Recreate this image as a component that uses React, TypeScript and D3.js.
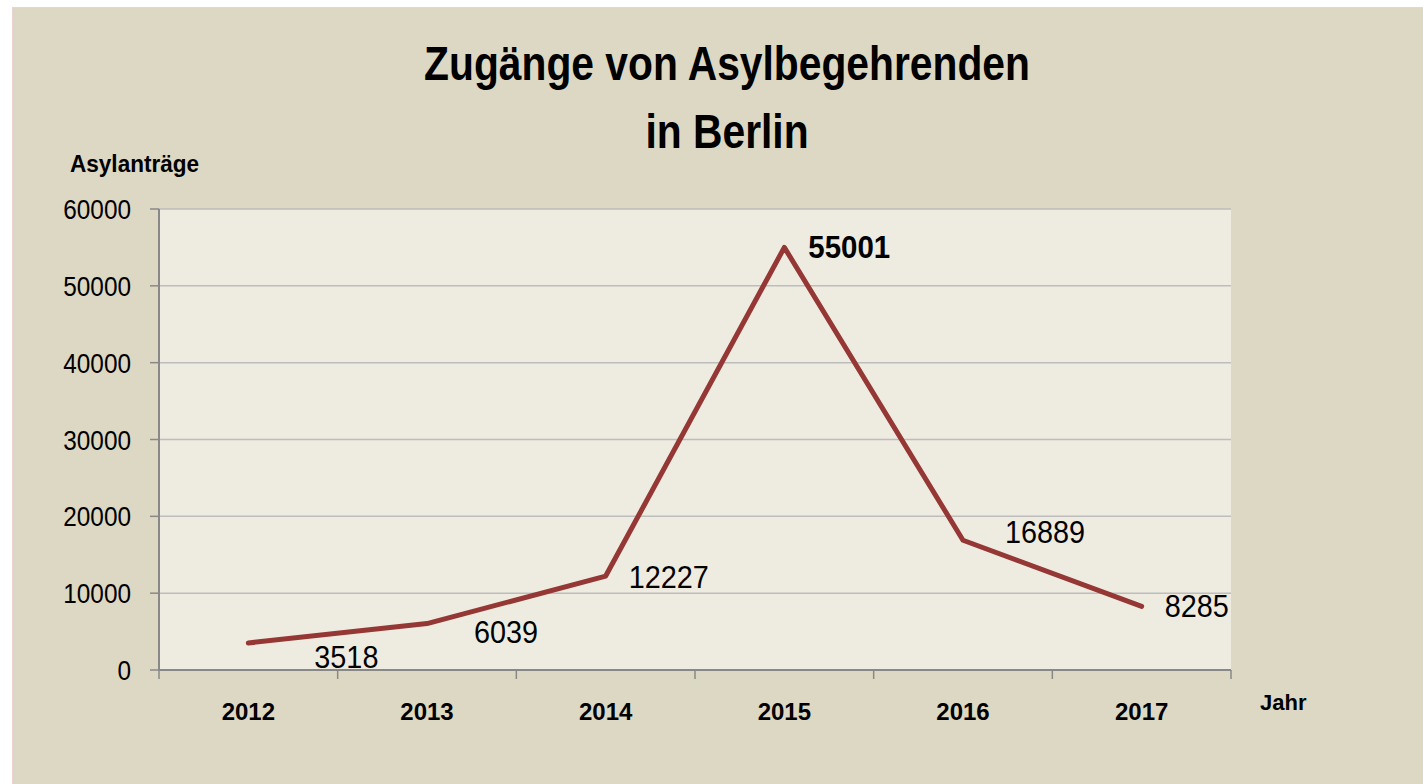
import React from "react";
import * as d3 from "d3";

const years = ["2012", "2013", "2014", "2015", "2016", "2017"];
const values = [3518, 6039, 12227, 55001, 16889, 8285];
const yTicks = [0, 10000, 20000, 30000, 40000, 50000, 60000];
const titleLines = ["Zugänge von Asylbegehrenden", "in Berlin"];
const yAxisTitle = "Asylanträge";
const xAxisTitle = "Jahr";
const boldLabel = [false, false, false, true, false, false];
// label placement offsets (layout only)
const labelDx = [66, 47, 23, 24, 42, 23];
const labelDy = [25, 19, 12, 11, 3, 11];

const W = 1423;
const H = 784;
const FONT = "'Liberation Sans', Arial, sans-serif";

function T(props: {
  x: number;
  y: number;
  sx: number;
  size: number;
  bold?: boolean;
  anchor?: "start" | "middle" | "end";
  children: React.ReactNode;
}) {
  return (
    <g transform={`translate(${props.x},${props.y}) scale(${props.sx},1)`}>
      <text
        x={0}
        y={0}
        fontSize={props.size}
        fontWeight={props.bold ? "bold" : "normal"}
        textAnchor={props.anchor || "start"}
        fill="#000"
      >
        {props.children}
      </text>
    </g>
  );
}

export default function App() {
  const left = 159, right = 1231, top = 209, bottom = 670;
  const x = d3.scaleBand<string>().domain(years).range([left, right]);
  const y = d3.scaleLinear().domain([0, 60000]).range([bottom, top]);
  const cx = (d: string) => (x(d) as number) + x.bandwidth() / 2;
  const line = d3
    .line<number>()
    .x((_, i) => cx(years[i]))
    .y((v) => y(v));
  const edges = years.map((d) => x(d) as number).concat([right]);

  return (
    <svg
      width={W}
      height={H}
      style={{ position: "absolute", left: 0, top: 0, background: "#ffffff" }}
      fontFamily={FONT}
    >
      <rect x={12.5} y={7.5} width={W - 12} height={H - 7} fill="#DDD8C3" stroke="#EBD3D3" strokeWidth={1} />
      <rect x={left} y={top} width={right - left} height={bottom - top} fill="#EEEBE0" />
      {yTicks.map((t) => (
        <g key={t}>
          <line x1={left} x2={right} y1={y(t)} y2={y(t)} stroke={t === 0 ? "#888888" : "#BDBDBD"} strokeWidth={t === 0 ? 2 : 1.5} />
          <line x1={150} x2={left} y1={y(t)} y2={y(t)} stroke="#888888" strokeWidth={1.5} />
          <T x={131} y={y(t) + 10} sx={0.87} size={28} anchor="end">
            {t}
          </T>
        </g>
      ))}
      <line x1={left} x2={left} y1={top} y2={bottom} stroke="#888888" strokeWidth={2} />
      {edges.map((e, i) => (
        <line key={i} x1={e} x2={e} y1={bottom} y2={bottom + 9} stroke="#888888" strokeWidth={1.5} />
      ))}
      {years.map((d) => (
        <T key={d} x={cx(d)} y={720} sx={1} size={24} bold anchor="middle">
          {d}
        </T>
      ))}
      <path d={line(values) || ""} fill="none" stroke="#953735" strokeWidth={5} strokeLinejoin="round" strokeLinecap="round" />
      {values.map((v, i) => (
        <T key={i} x={cx(years[i]) + labelDx[i]} y={y(v) + labelDy[i]} sx={boldLabel[i] ? 0.92 : 0.9} size={32} bold={boldLabel[i]}>
          {v}
        </T>
      ))}
      {titleLines.map((t, i) => (
        <T key={i} x={727} y={80 + i * 68} sx={0.85} size={48} bold anchor="middle">
          {t}
        </T>
      ))}
      <T x={70} y={172} sx={0.94} size={24} bold>
        {yAxisTitle}
      </T>
      <T x={1260} y={710} sx={1} size={22} bold>
        {xAxisTitle}
      </T>
    </svg>
  );
}
